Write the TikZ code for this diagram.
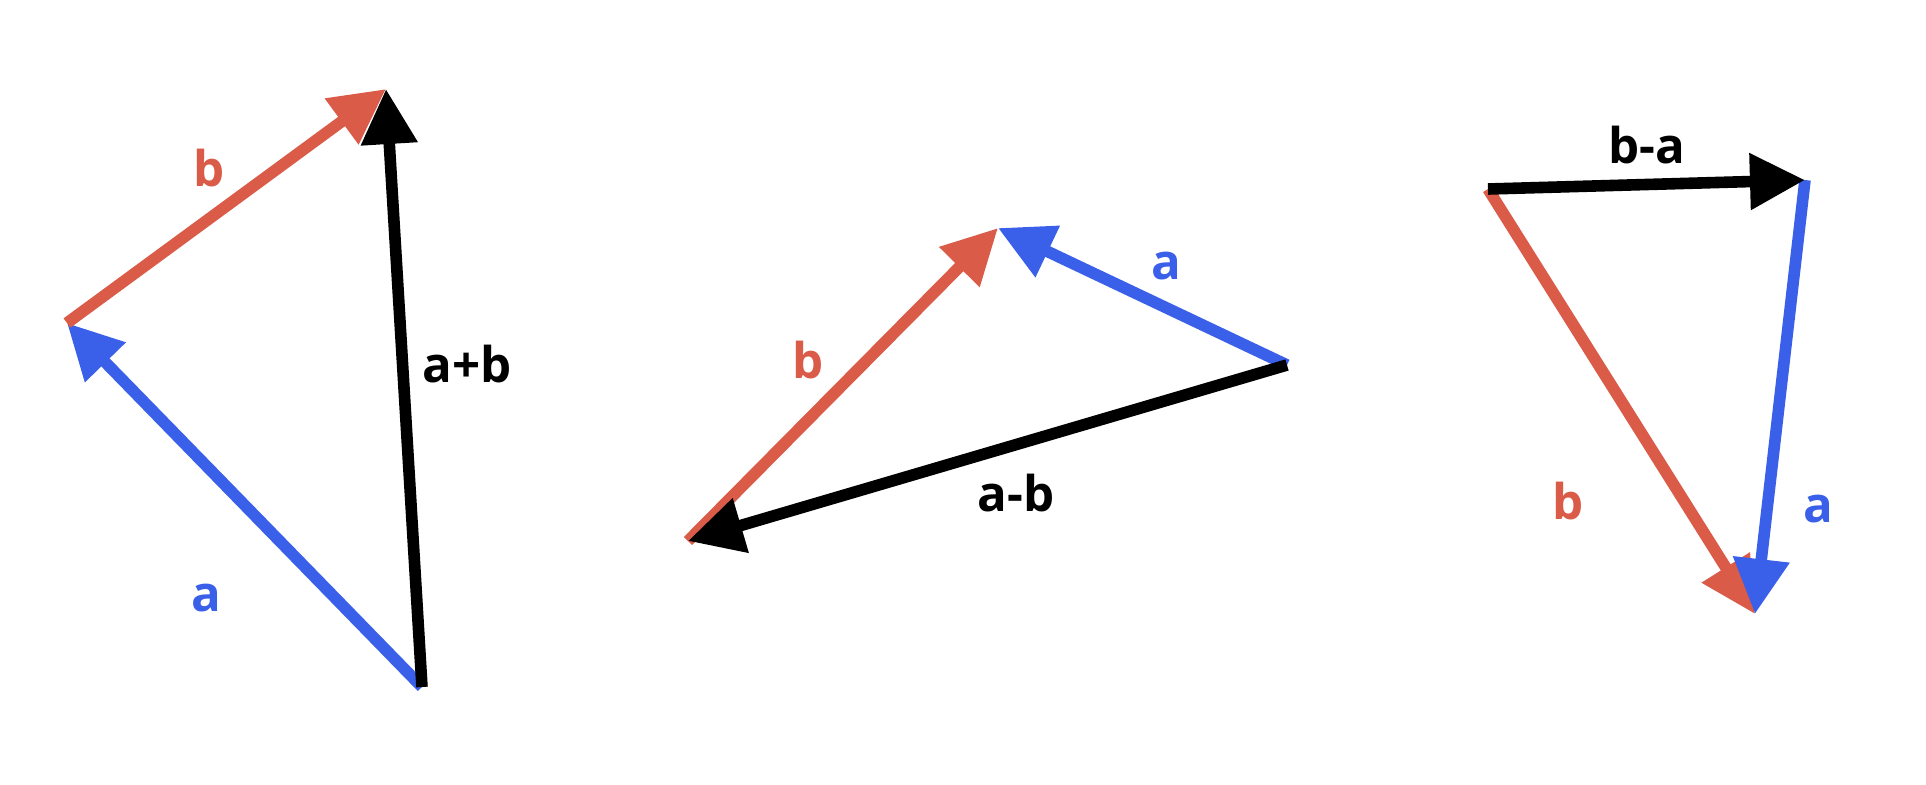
\documentclass[tikz,border=0pt]{standalone}
\usepackage{fontspec}
\setmainfont{Open Sans}
\usetikzlibrary{arrows.meta}

\definecolor{vecred}{HTML}{D95B48}
\definecolor{vecblue}{HTML}{3A5FE8}

\tikzset{
  vec/.style={line width=3.3pt, -{Triangle[length=0.55cm, width=0.54cm]}},
  lbl/.style={font=\fontsize{14pt}{16pt}\selectfont\bfseries}
}

\begin{document}
\begin{tikzpicture}[x=0.01cm, y=-0.01cm]

\useasboundingbox (0,0) rectangle (1926,784);

% a + b
\coordinate (sumO) at (422,687);
\coordinate (sumA) at (67,323);
\coordinate (sumB) at (386,89);

\draw [vec, vecblue] (sumO) -- (sumA);
\draw [vec, vecred]  (sumA) -- (sumB);
\draw [vec, black]   (sumO) -- (sumB);

\node[lbl, vecred]  (sumLb)  at (209,168) {b};
\node[lbl, vecblue] (sumLa)  at (206,598) {a};
\node[lbl]          (sumLab) at (467,364) {a+b};

% a - b
\coordinate (difO) at (1287,365);
\coordinate (difT) at (998,228);
\coordinate (difB) at (688,541);

\draw [vec, vecblue] (difO) -- (difT);
\draw [vec, vecred]  (difB) -- (difT);
\draw [vec, black]   (difO) -- (difB);

\node[lbl, vecblue] (difLa)  at (1166,266) {a};
\node[lbl, vecred]  (difLb)  at (808,360) {b};
\node[lbl]          (difLab) at (1016,493) {a-b};

% b - a
\coordinate (bmaO) at (1488,189);
\coordinate (bmaA) at (1805,180);
\coordinate (bmaT) at (1755,614);

\draw [vec, vecred]  (bmaO) -- (bmaT);
\draw [vec, vecblue] (bmaA) -- (bmaT);
\draw [vec, black]   (bmaO) -- (bmaA);

\node[lbl]          (bmaLba) at (1647,145) {b-a};
\node[lbl, vecred]  (bmaLb)  at (1568,501) {b};
\node[lbl, vecblue] (bmaLa)  at (1818,509) {a};

\end{tikzpicture}
\end{document}
